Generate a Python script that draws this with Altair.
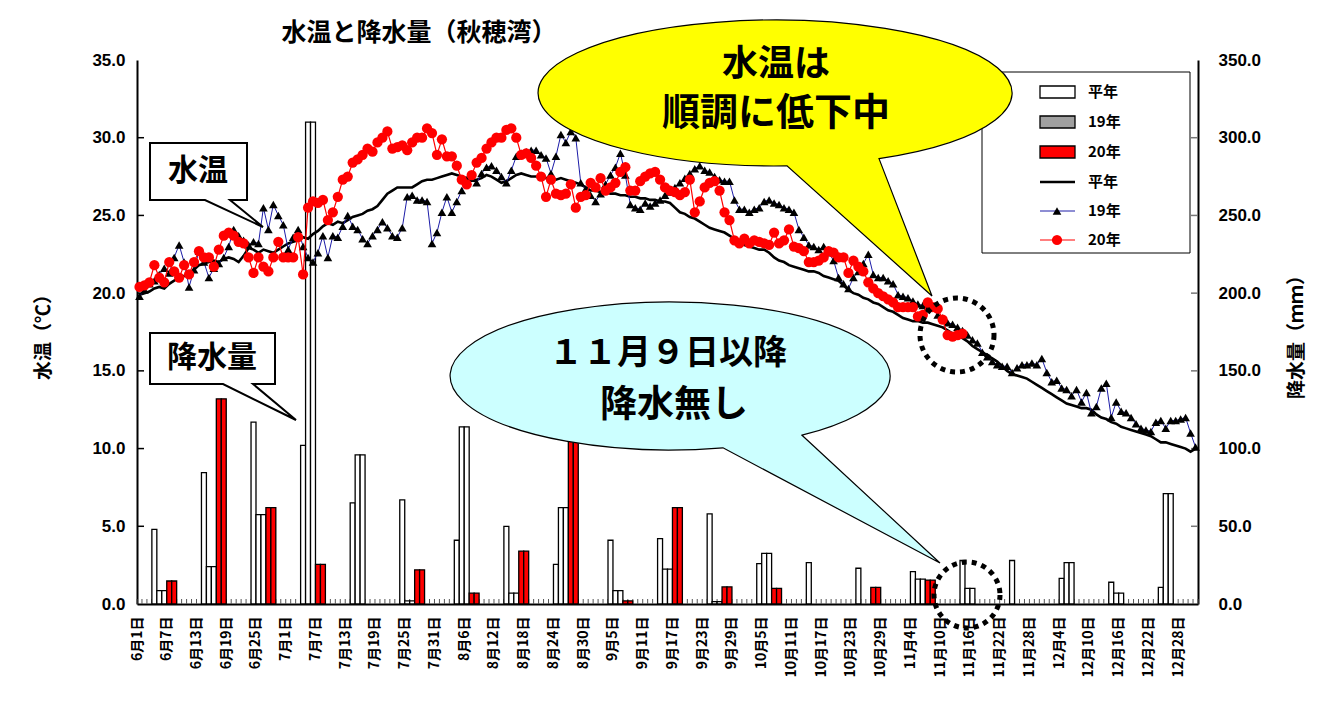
import altair as alt
import pandas as pd

# ---------------- data ----------------
month_lengths = [30, 31, 31, 30, 31, 30, 31]          # 6月..12月

x_tick_days = list(range(0, 211, 6))
x_tick_labels = ["6月1日", "6月7日", "6月13日", "6月19日", "6月25日", "7月1日", "7月7日",
                 "7月13日", "7月19日", "7月25日", "7月31日", "8月6日", "8月12日", "8月18日",
                 "8月24日", "8月30日", "9月5日", "9月11日", "9月17日", "9月23日", "9月29日",
                 "10月5日", "10月11日", "10月17日", "10月23日", "10月29日", "11月4日",
                 "11月10日", "11月16日", "11月22日", "11月28日", "12月4日", "12月10日",
                 "12月16日", "12月22日", "12月28日"]

temp_ticks = [0, 5, 10, 15, 20, 25, 30, 35]
rain_ticks = [0, 50, 100, 150, 200, 250, 300, 350]

# daily water temperature, 平年
temp_normal = [
    19.9, 20.0, 20.1, 20.3, 20.4, 20.3, 20.6, 20.8, 21.0, 21.1, 21.3, 21.5, 21.8, 21.9, 22.0,
    22.1, 22.0, 22.2, 22.3, 22.2, 22.0, 22.4, 22.9, 22.8, 22.6, 22.8, 22.7, 22.6, 22.8, 23.0,
    23.2, 23.3, 23.4, 23.6, 23.5, 23.8, 24.0, 24.3, 24.5, 24.4, 24.6, 24.5, 24.7, 24.9, 25.0,
    25.1, 25.3, 25.4, 25.6, 26.0, 26.4, 26.6, 26.8, 26.8, 26.8, 26.8, 27.0, 27.2, 27.3, 27.3, 27.4,
    27.5, 27.6, 27.7, 27.6, 27.5, 27.4, 27.3, 27.3, 27.4, 27.6, 27.5, 27.3, 27.1, 27.2, 27.4,
    27.6, 27.7, 27.6, 27.5, 27.5, 27.5, 27.4, 27.4, 27.3, 27.4, 27.3, 27.2, 27.1, 27.0, 26.8, 26.6,
    26.6, 26.5, 26.5, 26.4, 26.4, 26.3, 26.3, 26.2, 26.2, 26.1, 26.1, 26.0, 26.0, 25.9, 25.9,
    25.8, 25.5, 25.2, 25.1, 24.9, 24.8, 24.6, 24.4, 24.2, 24.1, 24.0, 23.9, 23.7, 23.5, 23.3,
    23.1, 23.0, 22.9, 22.8, 22.8, 22.6, 22.3, 22.1, 22.0, 21.8, 21.7, 21.6, 21.5, 21.4, 21.4,
    21.3, 21.1, 21.0, 20.9, 20.8, 20.5, 20.2, 20.0, 19.9, 19.7, 19.6, 19.4, 19.3, 19.1, 18.9, 18.8,
    18.6, 18.4, 18.3, 18.2, 18.2, 18.1, 18.1, 18.0, 17.9, 17.8, 17.6, 17.4, 17.3, 17.1, 16.9,
    16.6, 16.4, 16.2, 16.0, 15.8, 15.6, 15.3, 15.0, 14.8, 14.7, 14.6, 14.5, 14.3, 14.1, 13.9,
    13.7, 13.5, 13.3, 13.1, 12.9, 12.8, 12.7, 12.6, 12.6, 12.5, 12.2, 12.0, 11.9, 11.7, 11.6,
    11.4, 11.3, 11.2, 11.1, 11.0, 10.9, 10.8, 10.6, 10.4, 10.4, 10.3, 10.2, 10.1, 10.0, 9.8, 10.0,
]

# daily water temperature, 19年
temp_2007 = [
    19.8, 20.2, 20.6, 20.8, 21.2, 21.6, 21.3, 22.3, 23.1, 22.0, 20.4, 21.5, 22.7, 22.0, 21.0,
    21.6, 21.9, 22.3, 23.0, 24.1, 23.7, 23.4, 23.1, 23.3, 23.2, 25.5, 24.1, 25.7, 25.0, 24.4,
    22.8, 23.6, 24.1, 23.0, 22.3, 22.0, 22.6, 23.7, 22.3, 23.7, 23.6, 24.3, 25.0, 24.3, 24.1,
    23.5, 23.2, 23.7, 24.1, 24.6, 24.2, 23.7, 23.6, 24.2, 26.2, 26.3, 26.0, 26.0, 25.9, 23.2, 23.9,
    25.2, 26.2, 25.2, 25.9, 26.6, 27.3, 27.4, 27.1, 27.7, 28.1, 28.2, 27.9, 27.5, 27.1, 27.9,
    28.8, 29.0, 29.1, 29.2, 29.2, 28.9, 28.7, 27.7, 28.8, 30.2, 29.7, 30.4, 30.0, 27.1, 26.7, 26.3,
    25.9, 26.4, 27.0, 27.6, 28.1, 29.0, 27.6, 25.7, 25.5, 25.4, 25.8, 25.6, 25.8, 26.0, 26.3,
    26.5, 26.8, 27.1, 27.4, 27.7, 28.0, 28.2, 27.9, 27.8, 27.5, 27.3, 27.2, 27.2, 26.0, 25.4,
    25.4, 25.2, 25.4, 25.5, 25.9, 26.0, 25.8, 25.7, 25.5, 25.4, 25.2, 24.1, 23.6, 23.1, 23.0,
    22.8, 23.0, 22.6, 22.1, 21.0, 20.6, 20.3, 21.0, 21.4, 21.9, 22.5, 21.2, 21.0, 21.0, 20.8, 20.6,
    19.9, 19.8, 19.7, 19.5, 19.3, 19.2, 19.1, 19.1, 18.6, 18.4, 18.1, 18.0, 17.8, 17.6, 17.3,
    17.0, 16.8, 16.2, 15.9, 15.6, 15.4, 15.3, 15.3, 14.9, 15.2, 15.4, 15.4, 15.5, 15.4, 15.8,
    14.9, 14.3, 14.4, 13.9, 13.8, 13.4, 13.8, 13.0, 13.6, 12.3, 12.7, 13.9, 14.2, 12.0, 13.0,
    12.4, 12.3, 12.0, 11.6, 11.3, 11.2, 11.1, 11.7, 11.8, 11.3, 11.8, 11.8, 11.9, 12.0, 11.0, 10.1,
]

# daily water temperature, 20年 (up to 11月14日)
temp_2008 = [
    20.4, 20.5, 20.7, 21.8, 21.0, 20.7, 22.0, 21.4, 21.0, 21.8, 21.2, 22.0, 22.7, 22.3, 22.3,
    21.7, 22.8, 23.7, 23.9, 23.7, 23.3, 23.2, 22.3, 21.3, 22.3, 21.7, 21.4, 22.3, 23.3, 22.3,
    22.3, 22.3, 23.6, 21.2, 25.5, 25.9, 25.8, 26.0, 24.7, 25.2, 26.2, 27.3, 27.5, 28.4, 28.6,
    28.9, 29.3, 29.1, 29.7, 30.0, 30.4, 29.3, 29.4, 29.5, 29.2, 29.7, 30.0, 30.0, 30.6, 30.3, 28.9,
    29.9, 28.8, 28.8, 28.2, 27.3, 27.0, 27.6, 28.4, 28.7, 29.3, 29.7, 30.0, 30.0, 30.5, 30.6,
    30.0, 28.9, 29.0, 28.7, 28.2, 27.5, 26.2, 27.3, 26.4, 26.3, 26.4, 27.0, 25.5, 26.2, 26.3, 27.1,
    26.8, 27.4, 26.6, 26.8, 27.1, 27.8, 28.1, 26.6, 26.6, 27.2, 27.5, 27.7, 27.8, 27.3, 26.8,
    26.6, 26.5, 26.3, 26.5, 27.3, 25.2, 25.9, 26.8, 27.1, 27.2, 26.6, 25.2, 24.7, 23.4, 23.2,
    23.5, 23.2, 23.4, 23.3, 23.2, 23.1, 23.9, 23.2, 23.4, 24.1, 23.0, 22.9, 22.7, 22.0, 22.0,
    22.1, 22.3, 22.7, 22.6, 22.3, 22.3, 21.3, 22.1, 21.7, 21.4, 20.7, 20.3, 20.0, 19.8, 19.6, 19.4,
    19.1, 19.1, 19.1, 19.1, 18.5, 18.6, 19.4, 19.1, 19.0, 18.3, 17.3, 17.2, 17.3, 17.4,
]

# 旬別降水量 (mm): 6月上旬 .. 12月下旬
rain_normal = [48, 84.5, 117, 102, 65, 67, 41, 50, 25.5, 41, 42, 58, 26, 26.6, 23, 20.8, 28, 28, 16.5, 14, 10.7]
rain_2007 = [8.6, 24, 57.5, 310, 96, 2, 114, 7, 62, 8.6, 22.5, 1.5, 32.6, 0, 0, 16, 10, 0, 26.6, 7, 71]
rain_2008 = [14.8, 132, 62, 25.5, 0, 22, 7, 34, 125, 2, 62, 11, 10, 0, 10.7, 15.4, 0, 0, 0, 0, 0]

series_names = ["平年", "19年", "20年"]

# ---------------- layout constants ----------------
L, T = 137, 60               # plot origin in page pixels
W, H = 1061, 544
JP = "Noto Sans CJK JP"
NUM = "Liberation Sans"

# ---------------- frames ----------------
month_start, acc = [], 0
for m in month_lengths:
    month_start.append(acc)
    acc += m
N_DAYS = acc
jun_starts = [ms + k for ms in month_start for k in (0, 10, 20)]

trows = []
for name, vals in zip(series_names, [temp_normal, temp_2007, temp_2008]):
    for d, v in enumerate(vals):
        trows.append({"series": name, "day": d + 0.5, "temp": v})
temp_df = pd.DataFrame(trows)

brows = []
for k, s in enumerate(jun_starts):
    for name, vals, offs in [("平年", rain_normal, [3]), ("19年", rain_2007, [4, 5]), ("20年", rain_2008, [6, 7])]:
        if vals[k] > 0:
            for o in offs:
                brows.append({"series": name, "d0": s + o, "d1": s + o + 1, "rain": vals[k], "base": 0})
bar_df = pd.DataFrame(brows)
tick_df = pd.DataFrame({"d": list(range(N_DAYS + 1))})
dummy = pd.DataFrame({"k": [0]})

xscale = alt.Scale(domain=[0, N_DAYS], nice=False, zero=False)
tscale = alt.Scale(domain=[0, 35], nice=False)
rscale = alt.Scale(domain=[0, 350], nice=False)

label_expr = "[" + ",".join("'%s'" % s for s in x_tick_labels) + "][round(datum.value/6)]"
x_axis = alt.Axis(values=x_tick_days, labelExpr=label_expr, labelAngle=270, labelFont=JP,
                  labelFontSize=14, labelFontWeight="bold", labelColor="black", labelPadding=12,
                  ticks=False, tickSize=0, domainColor="black", domainWidth=2, grid=False,
                  labelFlush=False, labelOverlap=False, title=None)
left_axis = alt.Axis(orient="left", values=temp_ticks, format=".1f", labelFont=NUM, labelFontSize=17,
                     labelFontWeight="bold", labelColor="black", labelPadding=12, ticks=False, tickSize=0,
                     domainColor="black", domainWidth=2, grid=False, labelFlush=False,
                     title="水温（℃）", titleFont=JP, titleFontSize=19, titleFontWeight="bold",
                     titleColor="black", titlePadding=38)
right_axis = alt.Axis(orient="right", values=rain_ticks, format=".1f", labelFont=NUM, labelFontSize=17,
                      labelFontWeight="bold", labelColor="black", labelPadding=20, ticks=False, tickSize=0,
                      domainColor="black", domainWidth=2, grid=False, labelFlush=False,
                      title="降水量（ｍｍ）", titleAngle=270, titleFont=JP, titleFontSize=19,
                      titleFontWeight="bold", titleColor="black", titlePadding=46)

def X(field):
    return alt.X(field, scale=xscale, axis=x_axis)

# ---------------- precipitation layer ----------------
base_ticks = alt.Chart(tick_df).mark_rule(color="#555555", strokeWidth=1).encode(
    x=X("d:Q"), y=alt.value(H), y2=alt.value(H - 5))
bars = alt.Chart(bar_df).mark_bar(stroke="black", strokeWidth=1.3).encode(
    x=X("d0:Q"), x2="d1:Q",
    y=alt.Y("rain:Q", scale=rscale, axis=right_axis), y2="base:Q",
    color=alt.Color("series:N", scale=alt.Scale(domain=series_names, range=["white", "white", "#ff0000"]),
                    legend=None))
rain_tick_df = pd.DataFrame({"r": rain_ticks[1:-1]})
rain_axis_ticks = alt.Chart(rain_tick_df).mark_rule(color="#777777", strokeWidth=1.5).encode(
    y=alt.Y("r:Q", scale=rscale, axis=right_axis), x=alt.value(W - 7), x2=alt.value(W))
precip = alt.layer(base_ticks, bars, rain_axis_ticks)

# ---------------- temperature layer ----------------
def tsel(name):
    return alt.Chart(temp_df).transform_filter(alt.datum.series == name)

def TY(field):
    return alt.Y(field, scale=tscale, axis=left_axis)

temp_tick_df = pd.DataFrame({"t": temp_ticks[1:-1]})
temp_axis_ticks = alt.Chart(temp_tick_df).mark_rule(color="black", strokeWidth=1.5).encode(
    y=TY("t:Q"), x=alt.value(0), x2=alt.value(7))
l_norm = tsel("平年").mark_line(color="black", strokeWidth=2.6).encode(x=X("day:Q"), y=TY("temp:Q"))
l_07 = tsel("19年").mark_line(color="#1c1ca8", strokeWidth=1).encode(x=X("day:Q"), y=TY("temp:Q"))
p_07 = tsel("19年").mark_point(shape="triangle-up", filled=True, color="black", size=75, opacity=1).encode(
    x=X("day:Q"), y=TY("temp:Q"))
l_08 = tsel("20年").mark_line(color="#ff0000", strokeWidth=1.2).encode(x=X("day:Q"), y=TY("temp:Q"))
p_08 = tsel("20年").mark_point(shape="circle", filled=True, color="#ff0000", size=105, opacity=1).encode(
    x=X("day:Q"), y=TY("temp:Q"))
temps = alt.layer(temp_axis_ticks, l_norm, l_07, p_07, l_08, p_08)

# ---------------- annotations ----------------
def px(v):
    return alt.value(v - L)

def py(v):
    return alt.value(v - T)

def text(s, x, y, size, align="center", font=JP):
    return alt.Chart(dummy).mark_text(text=s, font=font, fontSize=size, fontWeight="bold", color="black",
                                      align=align, baseline="middle").encode(x=px(x), y=py(y))

def shape(path, x, y, fill, stroke="black", sw=1.0, dash=None, size=4):
    kw = dict(shape=path, size=size, filled=True, fill=fill, stroke=stroke, strokeWidth=sw,
              opacity=1, fillOpacity=1, strokeOpacity=1)
    if dash:
        kw["strokeDash"] = dash
    return alt.Chart(dummy).mark_point(**kw).encode(x=px(x), y=py(y))

def rect(x0, y0, x1, y1, fill, stroke="black", sw=1.0):
    return alt.Chart(dummy).mark_rect(fill=fill, stroke=stroke, strokeWidth=sw).encode(
        x=px(x0), x2=px(x1), y=py(y0), y2=py(y1))

def hline(x0, x1, y, color, sw):
    return alt.Chart(dummy).mark_rule(color=color, strokeWidth=sw).encode(x=px(x0), x2=px(x1), y=py(y))

annots = []
annots.append(text("水温と降水量（秋穂湾）", 419, 33, 25))

# legend
annots.append(rect(982, 72, 1190, 253, "white", "black", 1))
leg_rows = [92, 122, 152, 182, 211, 240]
leg_fills = ["white", "#a0a0a0", "#ff0000"]
for i in range(3):
    annots.append(rect(1040, leg_rows[i] - 6, 1075, leg_rows[i] + 6, leg_fills[i], "black", 1.3))
annots.append(hline(1040, 1075, leg_rows[3], "black", 2.6))
annots.append(hline(1040, 1075, leg_rows[4], "#1c1ca8", 1))
annots.append(shape("triangle-up", 1057, leg_rows[4], "black", "black", 0, size=75))
annots.append(hline(1040, 1075, leg_rows[5], "#ff0000", 1.2))
annots.append(shape("circle", 1057, leg_rows[5], "#ff0000", "#ff0000", 0, size=105))
for i, name in enumerate(series_names + series_names):
    annots.append(text(name, 1088, leg_rows[i], 15, align="left"))

# rectangular callouts
annots.append(shape("M 0 0 L 97 0 L 97 57 L 80 57 L 113 84 L 55 57 L 0 57 Z", 150, 143, "white", "black", 2))
annots.append(text("水温", 198, 171, 30))
annots.append(shape("M 0 0 L 125 0 L 125 51 L 103 51 L 146 87 L 73 51 L 0 51 Z", 150, 333, "white", "black", 2))
annots.append(text("降水量", 212, 358, 30))

# yellow oval callout
annots.append(shape("M 12 72.9 A 237 73 0 1 1 104 65.6 L 157 203 Z", 775, 93, "#ffff00", "black", 1.2))
annots.append(text("水温は", 776, 65, 36))
annots.append(text("順調に低下中", 776, 114, 38))

# cyan oval callout
annots.append(shape("M 53 71.8 A 220 74 0 1 1 132 59.2 L 270 187 Z", 670, 376, "#ccffff", "black", 1.2))
annots.append(text("１１月９日以降", 668, 354, 34))
annots.append(text("降水無し", 674, 406, 37))

# dotted circles
annots.append(shape("circle", 957, 335, "transparent", "black", 5, dash=[5, 5], size=74 * 74))
annots.append(shape("circle", 967, 595, "transparent", "black", 5, dash=[5, 5], size=66 * 66))

chart = alt.layer(precip, temps, *annots).resolve_scale(y="independent").properties(
    width=W, height=H,
    padding={"left": L, "top": T, "right": 1325 - L - W, "bottom": 722 - T - H},
    autosize=alt.AutoSizeParams(type="none"),
    background="white",
).configure_view(strokeWidth=0)

chart.save("out.html", embed_options={"renderer": "svg", "actions": False})
